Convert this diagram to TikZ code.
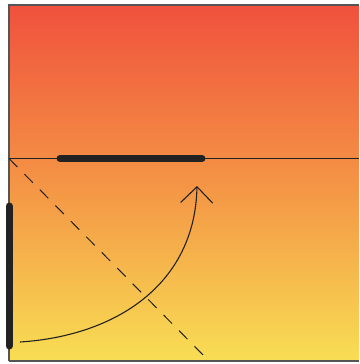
\documentclass[tikz,border=0pt]{standalone}
\usetikzlibrary{arrows.meta}
\definecolor{topc}{HTML}{F0513D}
\definecolor{midc}{HTML}{F49445}
\definecolor{botc}{HTML}{F8DE54}
\definecolor{linec}{HTML}{222222}
\definecolor{edgec}{HTML}{555555}
\tikzset{
  thickseg/.style={line width=7pt, line cap=round, draw=linec},
  thinline/.style={line width=0.9pt, draw=linec},
  dashline/.style={line width=1pt, draw=linec, dash pattern=on 12pt off 10pt},
  edge/.style={line width=1.3pt, draw=edgec},
}
\begin{document}
\begin{tikzpicture}[x=1pt,y=-1pt]
\useasboundingbox (0,0) rectangle (359,364);
\fill[white] (0,0) rectangle (359,364);
\shade[top color=topc, bottom color=botc, middle color=midc] (9,5) rectangle (359,361);
\coordinate (tl) at (9,5);
\coordinate (tr) at (359,5);
\coordinate (bl) at (9,361);
\coordinate (br) at (359,361);
\coordinate (ml) at (9,158.5);
\coordinate (mr) at (359,158.5);
\coordinate (d2) at (209,361);
\coordinate (h1) at (60,158.5);
\coordinate (h2) at (202,158.5);
\coordinate (v1) at (9,206);
\coordinate (v2) at (9,346);
\coordinate (a1) at (20,342);
\coordinate (a2) at (197,186);
\draw[edge] (bl) -- (tl) -- (tr);
\draw[edge] (bl) -- (br);
\draw[thinline] (ml) -- (mr);
\draw[dashline] (ml) -- (d2);
\draw[thickseg] (h1) -- (h2);
\draw[thickseg] (v1) -- (v2);
\draw[line width=1.1pt, draw=linec, -{Straight Barb[length=16pt,width=32pt,line width=1.1pt]}]
  (a1) .. controls (115,336) and (195,285) .. (a2);
\end{tikzpicture}
\end{document}
